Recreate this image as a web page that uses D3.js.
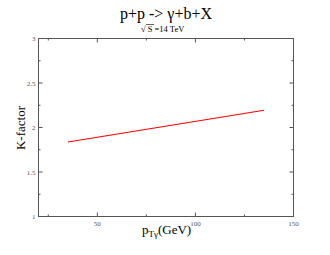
<!DOCTYPE html>
<html><head><meta charset="utf-8">
<script src="https://cdn.jsdelivr.net/npm/d3@7"></script>
<style>body{margin:0;background:#fff}svg{display:block}text{font-family:"Liberation Serif","DejaVu Serif",serif}</style>
</head><body><svg id="c" width="330" height="255"></svg>
<script>
const ptValues = [35, 135];
const kValues = [1.838, 2.194];
const xMajorTicks = [50, 100, 150];
const xMinorTicks = [25, 75, 125];
const yMajorTicks = [1, 1.5, 2, 2.5, 3];
const yMinorTicks = [1.25, 1.75, 2.25, 2.75];
const yTickLabels = ["1", "1.5", "2", "2.5", "3"];

const svg = d3.select("#c");
const m = {l: 38.5, r: 293.5, t: 38.5, b: 216.5};
const x = d3.scaleLinear().domain([20, 150]).range([m.l, m.r]);
const y = d3.scaleLinear().domain([1, 3]).range([m.b, m.t]);
const axisCol = "#555";
const labCol = "#555";

svg.append("rect").attr("x", m.l).attr("y", m.t).attr("width", m.r - m.l).attr("height", m.b - m.t)
  .attr("fill", "none").attr("stroke", axisCol).attr("stroke-width", 1);

const g = svg.append("g");
xMajorTicks.forEach(v => {
  g.append("line").attr("x1", x(v)).attr("x2", x(v)).attr("y1", m.b).attr("y2", m.b - 4).attr("stroke", axisCol);
  g.append("line").attr("x1", x(v)).attr("x2", x(v)).attr("y1", m.t).attr("y2", m.t + 4).attr("stroke", axisCol);
  g.append("text").attr("x", x(v)).attr("y", m.b + 9).attr("text-anchor", "middle").attr("font-size", 7).attr("fill", labCol).text(v);
});
xMinorTicks.forEach(v => {
  g.append("line").attr("x1", x(v)).attr("x2", x(v)).attr("y1", m.b).attr("y2", m.b - 2).attr("stroke", axisCol);
  g.append("line").attr("x1", x(v)).attr("x2", x(v)).attr("y1", m.t).attr("y2", m.t + 2).attr("stroke", axisCol);
});
yMajorTicks.forEach((v, i) => {
  g.append("line").attr("x1", m.l).attr("x2", m.l + 4).attr("y1", y(v)).attr("y2", y(v)).attr("stroke", axisCol);
  g.append("line").attr("x1", m.r).attr("x2", m.r - 4).attr("y1", y(v)).attr("y2", y(v)).attr("stroke", axisCol);
  g.append("text").attr("x", m.l - 3).attr("y", y(v) + 2.5).attr("text-anchor", "end").attr("font-size", 7).attr("fill", labCol).text(yTickLabels[i]);
});
yMinorTicks.forEach(v => {
  g.append("line").attr("x1", m.l).attr("x2", m.l + 2).attr("y1", y(v)).attr("y2", y(v)).attr("stroke", axisCol);
  g.append("line").attr("x1", m.r).attr("x2", m.r - 2).attr("y1", y(v)).attr("y2", y(v)).attr("stroke", axisCol);
});

const line = d3.line().x((d, i) => x(ptValues[i])).y(d => y(d));
svg.append("path").datum(kValues).attr("d", line).attr("fill", "none").attr("stroke", "#ff0000").attr("stroke-width", 1.1);

// Title
svg.append("text").attr("x", 166).attr("y", 19).attr("text-anchor", "middle").attr("font-size", 16).attr("fill", "#000").text("p+p -> γ+b+X");
const sub = svg.append("text").attr("x", 141).attr("y", 32).attr("font-size", 8.5).attr("fill", "#000");
sub.append("tspan").text("√");
sub.append("tspan").attr("dx", 2).text("S =14 TeV");
svg.append("line").attr("x1", 146).attr("x2", 154).attr("y1", 24.5).attr("y2", 24.5).attr("stroke", "#000").attr("stroke-width", 0.6);

// Axis labels
svg.append("text").attr("transform", "translate(25,128) rotate(-90)").attr("text-anchor", "middle").attr("font-size", 13).attr("fill", "#000").text("K-factor");
const xl = svg.append("text").attr("x", 142).attr("y", 234).attr("font-size", 13).attr("fill", "#000");
xl.append("tspan").text("p");
xl.append("tspan").attr("font-size", 9).attr("dy", 3).text("Tγ");
xl.append("tspan").attr("dy", -3).text("(GeV)");
</script></body></html>
